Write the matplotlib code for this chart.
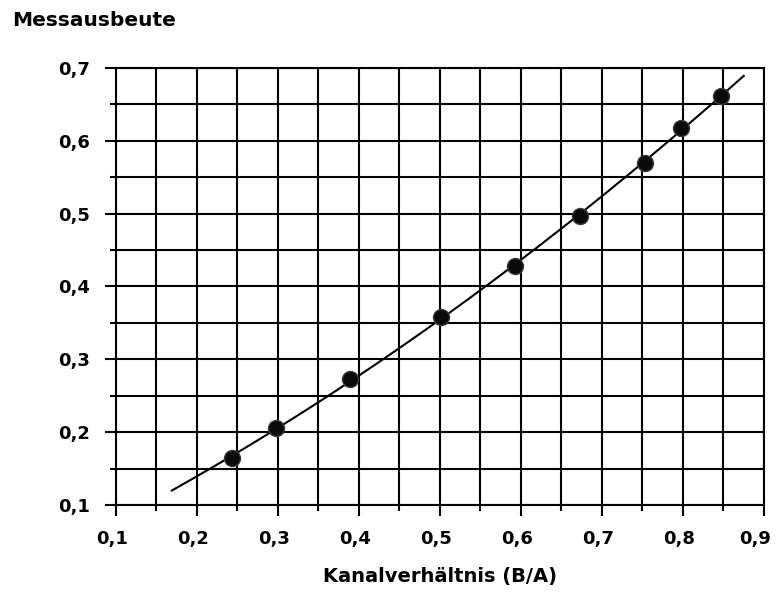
import numpy as np
import matplotlib
matplotlib.use("Agg")
import matplotlib.pyplot as plt
import matplotlib.transforms as mtransforms
from matplotlib.ticker import MultipleLocator, FuncFormatter

# measured points
ratio = [0.243, 0.298, 0.389, 0.501, 0.593, 0.673, 0.753, 0.798, 0.847]
yield_ = [0.165, 0.205, 0.273, 0.358, 0.428, 0.497, 0.570, 0.618, 0.662]

# fitted curve range
fit_range = [0.169, 0.875]

plt.rcParams['font.family'] = ['DejaVu Sans']
plt.rcParams['font.weight'] = 'bold'

fig = plt.figure(figsize=(7.78, 5.92), dpi=100)
ax = fig.add_axes([0.1491, 0.1470, 0.8329, 0.7382])

# quadratic trend through the measured points
coef = np.polyfit(ratio, yield_, 2)
xs = np.linspace(fit_range[0], fit_range[1], 200)
ax.plot(xs, np.polyval(coef, xs), color='black', lw=1.5, zorder=3)

ax.plot(ratio, yield_, 'o', ms=11.5, mfc='#0a0a0a', mec='#3a3a3a', mew=1.0, zorder=4)

ax.set_xlim(0.1, 0.9)
ax.set_ylim(0.1, 0.7)
ax.xaxis.set_major_locator(MultipleLocator(0.1))
ax.xaxis.set_minor_locator(MultipleLocator(0.05))
ax.yaxis.set_major_locator(MultipleLocator(0.1))
ax.yaxis.set_minor_locator(MultipleLocator(0.05))

fmt = FuncFormatter(lambda v, p: f"{v:.1f}".replace('.', ','))
ax.xaxis.set_major_formatter(fmt)
ax.yaxis.set_major_formatter(fmt)

ax.grid(True, which='both', color='black', lw=1.5)
ax.set_axisbelow(True)
for s in ax.spines.values():
    s.set_linewidth(1.5)

ax.tick_params(which='major', direction='out', length=8, width=1.5, labelsize=13, pad=10)
ax.tick_params(axis='y', which='major', pad=11)
ax.tick_params(which='minor', direction='out', length=4.5, width=1.5)

ax.set_xlabel("Kanalverhältnis (B/A)", fontsize=14, fontweight='bold', labelpad=14)
fig.text(12 / 778, 1 - 21 / 592, "Messausbeute", fontsize=14.5, fontweight='bold',
         ha='left', va='center')

# x labels sit a little left of their ticks in the original
fig.canvas.draw()
for lab in ax.get_xticklabels():
    dx = -9 if lab.get_text() == "0,9" else -4
    shift = mtransforms.ScaledTranslation(dx / 100, 0, fig.dpi_scale_trans)
    lab.set_transform(lab.get_transform() + shift)

fig.savefig("out.png", dpi=100)
